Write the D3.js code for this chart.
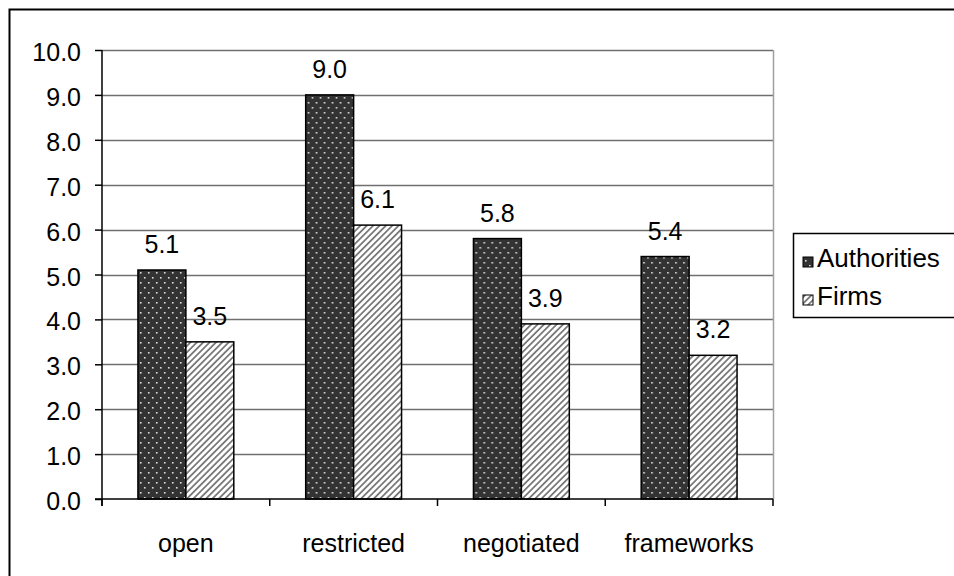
<!DOCTYPE html>
<html>
<head>
<meta charset="utf-8">
<script src="https://cdn.jsdelivr.net/npm/d3@7"></script>
<style>
  body { margin: 0; background: #fff; }
  text { font-family: "Liberation Sans", Arial, sans-serif; }
</style>
</head>
<body>
<div id="chart"></div>
<script>
// data
var categories = ["open", "restricted", "negotiated", "frameworks"];
var seriesNames = ["Authorities", "Firms"];
var authorities = [5.1, 9.0, 5.8, 5.4];
var firms = [3.5, 6.1, 3.9, 3.2];
var yTicks = [0, 1, 2, 3, 4, 5, 6, 7, 8, 9, 10];

var W = 954, H = 576;
var margin = { top: 50, right: 181, bottom: 77, left: 102 },
    width = W - margin.left - margin.right,
    height = H - margin.top - margin.bottom;
var fontSize = "25px";

var svg = d3.select("#chart")
    .append("svg")
    .attr("width", W)
    .attr("height", H);

// patterns
var defs = svg.append("defs");
var dots = defs.append("pattern")
    .attr("id", "dots")
    .attr("patternUnits", "userSpaceOnUse")
    .attr("width", 8).attr("height", 10);
dots.append("rect").attr("width", 8).attr("height", 10).attr("fill", "#333333");
dots.append("rect").attr("x", 2).attr("y", 2).attr("width", 1.6).attr("height", 1.6).attr("fill", "#e0e0e0");
dots.append("rect").attr("x", 6).attr("y", 7).attr("width", 1.6).attr("height", 1.6).attr("fill", "#e0e0e0");

var hatch = defs.append("pattern")
    .attr("id", "hatch")
    .attr("patternUnits", "userSpaceOnUse")
    .attr("width", 4.5).attr("height", 4.5)
    .attr("patternTransform", "rotate(45)");
hatch.append("rect").attr("width", 4.5).attr("height", 4.5).attr("fill", "#fff");
hatch.append("rect").attr("x", 0).attr("width", 1.8).attr("height", 4.5).attr("fill", "#7a7a7a");

var fills = { "Authorities": "url(#dots)", "Firms": "url(#hatch)" };

// outer frame (runs off the page on right and bottom)
svg.append("rect")
    .attr("x", 9.5).attr("y", 9.5)
    .attr("width", 1000).attr("height", 1000)
    .attr("fill", "none")
    .attr("stroke", "#000")
    .attr("stroke-width", 2);

var g = svg.append("g")
    .attr("transform", "translate(" + margin.left + "," + margin.top + ")");

var x = d3.scaleBand()
    .domain(categories)
    .range([0, width]);

var y = d3.scaleLinear()
    .domain([0, 10])
    .range([height, 0]);

// gridlines
g.selectAll(".grid")
    .data(yTicks.slice(1))
    .enter()
    .append("line")
    .attr("x1", 0).attr("x2", width)
    .attr("y1", function (d) { return Math.round(y(d)) + 0.5; })
    .attr("y2", function (d) { return Math.round(y(d)) + 0.5; })
    .attr("stroke", "#707070")
    .attr("stroke-width", 1.5);

// right edge of plot area
g.append("line")
    .attr("x1", width + 0.5).attr("x2", width + 0.5)
    .attr("y1", y(10)).attr("y2", height)
    .attr("stroke", "#a0a0a0")
    .attr("stroke-width", 1.5);

// bars
var barW = x.bandwidth() * 2 / 7;
var data = categories.map(function (c, i) {
    return { cat: c, values: [
        { name: "Authorities", value: authorities[i] },
        { name: "Firms", value: firms[i] }
    ] };
});

var x1 = d3.scaleBand()
    .domain(seriesNames)
    .range([0, barW * 2]);

var groups = g.selectAll(".grp")
    .data(data)
    .enter()
    .append("g")
    .attr("transform", function (d) {
        return "translate(" + (x(d.cat) + (x.bandwidth() - barW * 2) / 2) + ",0)";
    });

groups.selectAll("rect")
    .data(function (d) { return d.values; })
    .enter()
    .append("rect")
    .attr("x", function (d) { return x1(d.name); })
    .attr("y", function (d) { return y(d.value); })
    .attr("width", x1.bandwidth())
    .attr("height", function (d) { return height - y(d.value); })
    .attr("fill", function (d) { return fills[d.name]; })
    .attr("stroke", "#000")
    .attr("stroke-width", 1.5);

groups.selectAll(".lbl")
    .data(function (d) { return d.values; })
    .enter()
    .append("text")
    .attr("x", function (d) { return x1(d.name) + x1.bandwidth() / 2; })
    .attr("y", function (d) { return y(d.value) - 17; })
    .attr("text-anchor", "middle")
    .style("font-size", fontSize)
    .text(function (d) { return d.value.toFixed(1); });

// y axis
var yAxis = g.append("g")
    .call(d3.axisLeft(y).tickValues(yTicks).tickSize(7).tickPadding(14)
        .tickFormat(d3.format(".1f")));
yAxis.select(".domain").remove();
yAxis.selectAll(".tick line").attr("stroke", "#000").attr("stroke-width", 1.5);
yAxis.selectAll("text")
    .attr("dy", "0.42em")
    .attr("fill", "#000")
    .style("font-size", fontSize)
    .style("font-family", "Liberation Sans, Arial, sans-serif");
g.append("line")
    .attr("x1", 0).attr("x2", 0)
    .attr("y1", y(10)).attr("y2", height + 7)
    .attr("stroke", "#000").attr("stroke-width", 1.5);

// x axis
g.append("line")
    .attr("x1", -7).attr("x2", width)
    .attr("y1", height).attr("y2", height)
    .attr("stroke", "#000").attr("stroke-width", 1.5);
g.selectAll(".xtick")
    .data(categories.concat([null]))
    .enter()
    .append("line")
    .attr("x1", function (d, i) { return i * x.bandwidth(); })
    .attr("x2", function (d, i) { return i * x.bandwidth(); })
    .attr("y1", height).attr("y2", height + 7)
    .attr("stroke", "#000").attr("stroke-width", 1.5);
g.selectAll(".xlbl")
    .data(categories)
    .enter()
    .append("text")
    .attr("x", function (d) { return x(d) + x.bandwidth() / 2; })
    .attr("y", height + 53)
    .attr("text-anchor", "middle")
    .style("font-size", fontSize)
    .text(function (d) { return d; });

// legend
var legend = svg.append("g").attr("transform", "translate(793,233)");
legend.append("rect")
    .attr("x", 0.5).attr("y", 0.5)
    .attr("width", 200).attr("height", 84)
    .attr("fill", "#fff")
    .attr("stroke", "#000")
    .attr("stroke-width", 1.5);
var items = legend.selectAll(".item")
    .data(seriesNames)
    .enter()
    .append("g")
    .attr("transform", function (d, i) { return "translate(10," + (25 + i * 38) + ")"; });
items.append("rect")
    .attr("x", 0).attr("y", -1)
    .attr("width", 10).attr("height", 10)
    .attr("fill", function (d) { return fills[d]; })
    .attr("stroke", "#000")
    .attr("stroke-width", 1);
items.append("text")
    .attr("x", 14).attr("y", 9)
    .style("font-size", "26px")
    .text(function (d) { return d; });
</script>
</body>
</html>
